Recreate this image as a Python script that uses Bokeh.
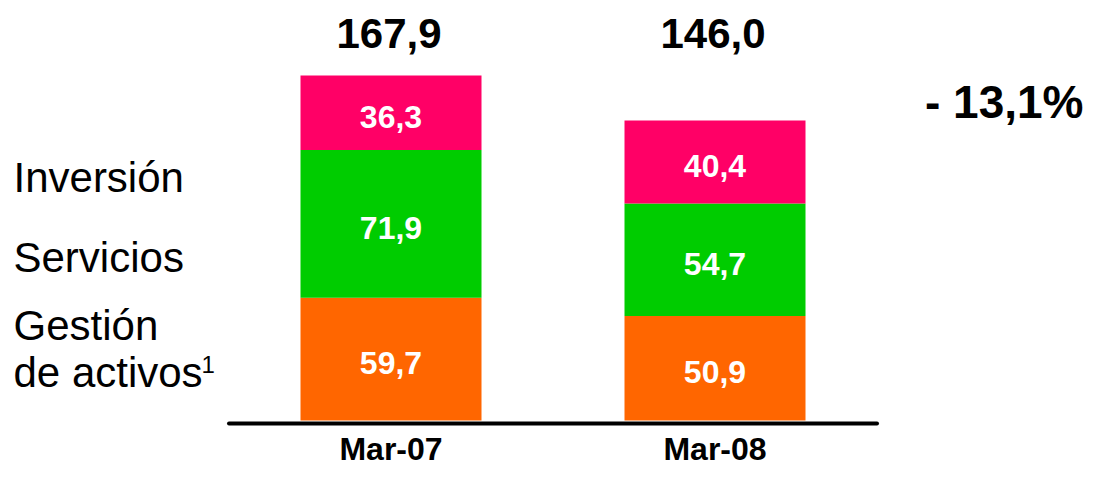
from bokeh.plotting import figure
from bokeh.models import ColumnDataSource, Range1d, Label
from bokeh.core.properties import value
from bokeh.embed import file_html
from bokeh.resources import INLINE

# ---- data ----
periods = ["Mar-07", "Mar-08"]
gestion = [59.7, 50.9]
servicios = [71.9, 54.7]
inversion = [36.3, 40.4]
totals = [167.9, 146.0]
change_label = "- 13,1%"
legend_labels = ["Inversión", "Servicios", "Gestión", "de activos"]
footnote_mark = "1"

series_keys = ["gestion", "servicios", "inversion"]
series_colors = ["#FF6600", "#00CC00", "#FF0066"]
FONT = "Liberation Sans"


def fmt(v):
    return f"{v:.1f}".replace(".", ",")


# ---- layout geometry (canvas pixels) ----
W, H = 1085, 468
PX = 2.0548          # pixels per value unit
BASE = 420.0         # canvas y of value 0
SLOT = 324.0         # pixels per category slot
FIRST = 390.5        # canvas x of first category centre


def pv(cy):
    return (BASE - cy) / PX


xstart = -FIRST / SLOT
p = figure(
    width=W, height=H,
    x_range=Range1d(xstart, xstart + W / SLOT),
    y_range=Range1d(pv(H), pv(0)),
    output_backend="svg", toolbar_location=None,
    x_axis_location=None, y_axis_location=None,
    min_border=0,
    outline_line_color=None, background_fill_color="white",
)
p.grid.visible = False

xpos = list(range(len(periods)))
src = ColumnDataSource(dict(x=xpos, period=periods, gestion=gestion,
                            servicios=servicios, inversion=inversion))
p.vbar_stack(series_keys, x="x", width=181 / SLOT, fill_color=series_colors,
             line_color=None, source=src)

# baseline
p.segment(x0=xpos[0] - 0.5, x1=xpos[-1] + 0.5, y0=pv(423), y1=pv(423),
          line_color="black", line_width=4, line_cap="round")

# in-bar labels
lx, ly, lt = [], [], []
for i in xpos:
    cum = 0.0
    for vals in (gestion, servicios, inversion):
        v = vals[i]
        lx.append(i)
        ly.append(cum + v / 2)
        lt.append(fmt(v))
        cum += v
p.text(x=lx, y=ly, text=lt, text_font=value(FONT), text_font_style="bold",
       text_font_size="32px", text_color="white", text_align="center",
       text_baseline="middle", y_offset=4)

# totals
p.text(x=xpos, y=[pv(33)] * len(xpos), text=[fmt(t) for t in totals],
       text_font=value(FONT), text_font_style="bold", text_font_size="42px",
       text_color="black", text_align="center", text_baseline="middle",
       x_offset=-2)

# category labels
p.text(x=xpos, y=[pv(448)] * len(xpos), text=periods,
       text_font=value(FONT), text_font_style="bold", text_font_size="32px",
       text_color="black", text_align="center", text_baseline="middle")

# change label
p.add_layout(Label(x=1083, y=H - 101, x_units="screen", y_units="screen",
                   text=change_label, text_font=FONT, text_font_style="bold",
                   text_font_size="46px", text_color="black", text_align="right",
                   text_baseline="middle"))

# left labels
for txt, cy in zip(legend_labels, [176.7, 256.5, 324.5, 372.0]):
    p.add_layout(Label(x=13, y=H - cy, x_units="screen", y_units="screen",
                       text=txt, text_font=FONT, text_font_size="42px",
                       text_color="black", text_align="left",
                       text_baseline="middle"))
p.add_layout(Label(x=201, y=H - 363.5, x_units="screen", y_units="screen",
                   text=footnote_mark, text_font=FONT, text_font_size="24px",
                   text_color="black", text_align="left", text_baseline="middle"))

open("out.html", "w").write(file_html(p, INLINE))
